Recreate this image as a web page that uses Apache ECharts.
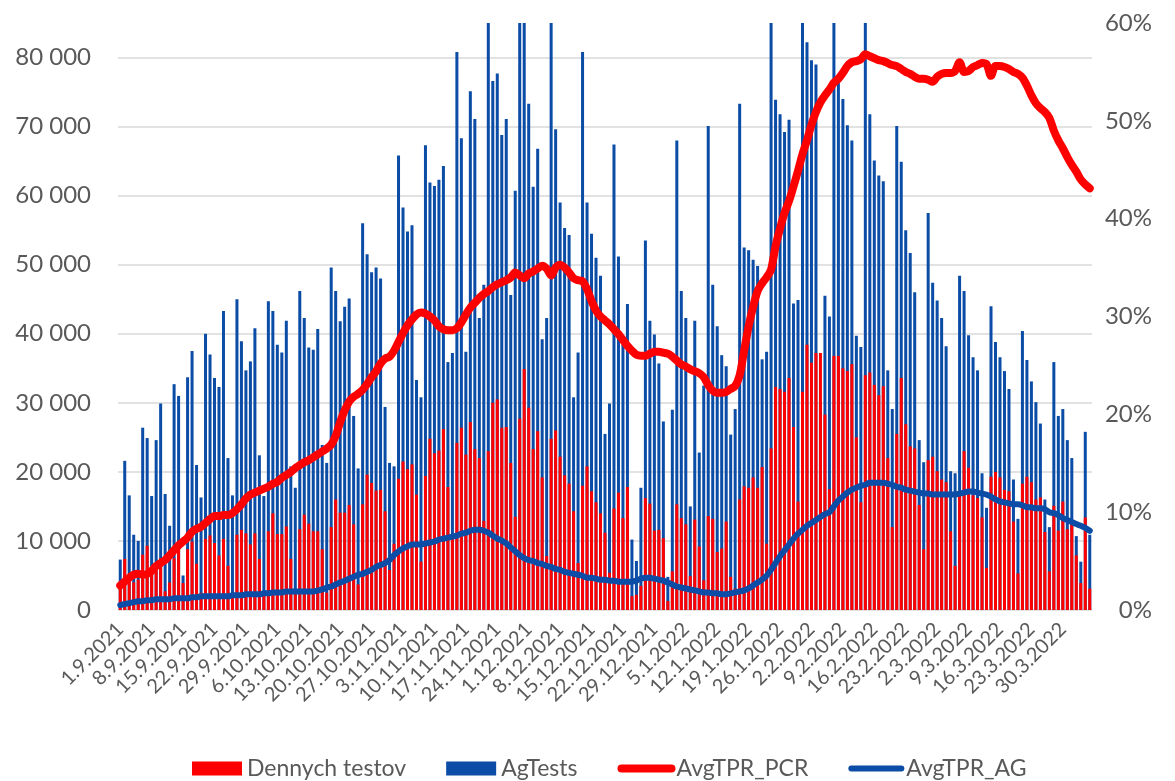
<!DOCTYPE html>
<html>
<head>
<meta charset="utf-8">
<script src="https://cdn.jsdelivr.net/npm/echarts@6/dist/echarts.min.js"></script>
<style>
html,body{margin:0;padding:0;background:#fff;}
#chart{width:1175px;height:781px;}
</style>
</head>
<body>
<div id="chart"></div>
<script>
//datumy 1.9.2021 - 5.4.2022 (den po dni)
var dni = [];
for (var k = 0; k < 217; k++) {
	var d = new Date(2021, 8, 1 + k);
	dni.push(d.getDate() + '.' + (d.getMonth() + 1) + '.' + d.getFullYear());
}

//PCR testy za den
var dennychTestov = [
	3700,7400,4900,4000,4400,8000,9300,6300,6600,7500,2700,4000,7500,9000,3900,8800,9900,6700,2500,10300,
	10800,9700,7900,10300,6400,2500,10900,11600,11100,9500,11100,7400,2500,11400,14000,11000,11000,12100,7400,2700,
	11700,13800,12500,11400,11400,8800,2500,12000,16000,14100,14100,15200,12400,3700,15300,19600,18400,17300,17400,14300,
	5800,9600,19000,21500,20400,21100,16700,7000,19400,24800,22700,23100,26200,17800,10500,24200,26400,22500,27200,23300,
	22000,12900,23000,30000,30500,26400,26500,21300,13500,27700,34900,29300,23300,25900,19200,7800,24800,26000,22200,19500,
	18300,14300,6800,18000,20800,17200,15600,14000,11200,5400,14700,17000,13300,17800,2000,2200,3500,16200,15400,11500,
	11600,10400,1300,5600,15300,13300,12400,4900,13100,9200,4300,13600,13200,8400,8900,12800,4800,3100,16000,17900,
	17700,19200,17700,20700,9600,23400,32300,32000,31600,33600,26500,15700,31600,38400,35800,37200,37200,28300,17500,36800,
	36800,35000,34600,35600,25000,15600,34000,34400,32600,31100,32400,22000,12000,25500,33600,26900,23700,23400,15200,8800,
	21700,22200,20100,18900,18500,11400,6400,16500,23000,20600,16600,16200,13400,6100,19300,20000,19200,17400,17200,12800,
	5300,18300,19300,18500,16000,16300,11300,5600,15100,11500,15700,11700,12500,7900,3900,13400,3100
];

//antigenove testy za den
var agTests = [
	7300,21600,16600,10900,10000,26400,24900,16500,24600,29900,16800,12200,32700,31000,5000,33700,37500,21000,16300,40000,
	37000,33600,32300,43300,22000,16600,45000,38900,34700,36000,40800,22400,16500,44700,43300,38400,37300,41900,20800,17700,
	46200,42300,38000,37700,40700,23900,21300,49600,46200,41800,43900,45100,28100,20500,56000,51500,48900,49600,48000,29400,
	21300,20800,65800,58300,54800,55700,33300,30800,67300,61900,61400,62300,64300,35900,37200,80800,68300,37400,75100,71100,
	42300,47100,90000,76600,77700,68800,71100,45600,60700,88000,92000,73300,61300,66800,39200,42300,89000,69600,59000,55300,
	54300,30800,37300,80800,59000,54500,51000,48400,25500,29900,67400,51200,39400,44300,10200,7100,17700,53500,41900,39900,
	35700,27300,4800,29000,68000,46200,42300,15000,41900,22800,32500,70100,47100,41100,36900,35300,25400,29100,73300,52500,
	52100,50700,49800,36300,37400,95000,73900,71800,69200,71000,44400,44900,98000,82200,79600,79000,30000,45500,42500,90000,
	77500,74000,70200,68000,39700,38100,88000,71800,65100,62900,62100,34700,29100,70100,64900,55000,51700,46000,24600,21400,
	57500,47400,44800,42300,38200,20100,19800,48400,46200,39800,36600,34700,19800,14800,44000,38800,36600,34600,32000,18900,
	13200,40400,36200,33100,30100,27000,16000,12000,35900,28100,29100,24600,22000,10700,7000,25800,10900
];

//priemerna pozitivita PCR (%)
var avgTprPcr = [
	2.5,2.9,3.3,3.6,3.7,3.6,3.7,4.0,4.5,4.8,5.1,5.6,6.1,6.6,7.0,7.4,8.0,8.3,8.5,8.9,
	9.3,9.6,9.6,9.7,9.7,9.9,10.3,10.8,11.4,11.8,12.0,12.2,12.4,12.6,12.9,13.1,13.5,13.8,14.1,14.5,
	14.8,15.1,15.3,15.6,15.9,16.2,16.5,16.9,17.8,19.2,20.4,21.3,21.8,22.1,22.5,23.1,23.8,24.4,25.2,25.7,
	25.9,26.5,27.4,28.3,29.1,29.7,30.2,30.4,30.3,30.0,29.6,29.0,28.7,28.6,28.6,28.8,29.4,30.2,30.9,31.4,
	31.9,32.3,32.6,33.0,33.3,33.5,33.7,34.0,34.5,34.2,33.9,34.4,34.6,34.9,35.2,34.9,34.2,35.0,35.3,35.0,
	34.5,33.9,33.7,33.6,32.8,31.6,30.6,30.0,29.6,29.2,28.7,28.2,27.6,27.0,26.5,26.1,26.0,26.0,26.2,26.4,
	26.4,26.3,26.2,25.9,25.5,25.1,24.9,24.6,24.4,24.2,23.8,23.0,22.4,22.2,22.2,22.3,22.6,22.9,24.0,26.5,
	29.0,31.0,32.6,33.4,34.0,34.8,37.2,39.0,40.6,41.8,43.3,44.9,46.6,48.0,49.6,50.9,51.9,52.6,53.2,53.9,
	54.3,54.9,55.6,56.0,56.1,56.3,56.8,56.6,56.4,56.2,56.1,55.9,55.7,55.6,55.3,55.0,54.8,54.5,54.3,54.3,
	54.2,54.0,54.5,54.8,54.9,54.9,55.1,56.0,55.0,55.1,55.5,55.7,55.9,55.8,54.6,55.6,55.6,55.5,55.3,55.0,
	54.8,54.4,53.6,52.6,51.8,51.3,50.9,50.3,49.0,48.0,47.2,46.3,45.5,44.8,44.0,43.5,43.1
];

//priemerna pozitivita AG (%)
var avgTprAg = [
	0.5,0.6,0.7,0.8,0.9,0.9,1.0,1.0,1.1,1.1,1.1,1.1,1.2,1.2,1.2,1.2,1.3,1.3,1.4,1.4,
	1.4,1.4,1.4,1.4,1.4,1.5,1.5,1.5,1.6,1.6,1.6,1.6,1.7,1.7,1.8,1.8,1.8,1.9,1.9,1.9,
	1.9,1.9,1.9,1.9,2.0,2.1,2.3,2.4,2.6,2.8,3.0,3.2,3.4,3.6,3.7,3.9,4.1,4.4,4.6,4.8,
	5.1,5.6,6.0,6.3,6.5,6.7,6.7,6.7,6.8,6.9,7.0,7.2,7.3,7.4,7.5,7.6,7.8,7.9,8.1,8.2,
	8.2,8.1,7.9,7.6,7.3,7.1,6.8,6.4,6.0,5.6,5.3,5.1,5.0,4.8,4.7,4.5,4.4,4.2,4.1,3.9,
	3.8,3.7,3.6,3.5,3.3,3.3,3.2,3.1,3.1,3.0,3.0,2.9,2.9,2.9,2.9,3.0,3.2,3.3,3.3,3.2,
	3.1,3.0,2.8,2.6,2.4,2.3,2.2,2.1,2.0,1.9,1.8,1.8,1.7,1.7,1.6,1.6,1.7,1.8,1.9,2.0,
	2.2,2.5,2.8,3.1,3.5,4.1,4.8,5.5,6.1,6.7,7.3,7.8,8.2,8.6,8.9,9.2,9.5,9.8,10.0,10.6,
	11.2,11.6,12.0,12.3,12.5,12.7,12.8,13.0,13.0,13.0,13.0,12.9,12.8,12.6,12.5,12.3,12.2,12.1,12.0,11.9,
	11.9,11.8,11.8,11.8,11.8,11.8,11.8,11.9,12.0,12.1,12.1,12.0,11.9,11.8,11.6,11.3,11.1,11.0,10.9,10.8,
	10.8,10.7,10.5,10.5,10.4,10.4,10.3,10.0,9.9,9.7,9.4,9.2,9.0,8.8,8.6,8.4,8.1
];

var sivaFarba = '#595959';
var cervena = '#ff0000';
var modra = '#0a4ca6';
var font = 'Lato, sans-serif';

var myChart = echarts.init(document.getElementById('chart'));
var option = {
	animation: false,
	backgroundColor: '#fff',
	textStyle: {fontFamily: font},
	grid: {left: 118, right: 83, top: 23, bottom: 171},
	legend: {
		left: 187,
		top: 752,
		itemGap: 40,
		itemWidth: 50,
		itemHeight: 14,
		textStyle: {color: sivaFarba, fontSize: 23, fontFamily: font},
		data: [
			{name: 'Dennych testov', icon: 'rect'},
			{name: 'AgTests', icon: 'rect'},
			//ciara bez kruzku v legende
			{name: 'AvgTPR_PCR', itemStyle: {opacity: 0}, lineStyle: {width: 8, cap: 'round'}},
			{name: 'AvgTPR_AG', itemStyle: {opacity: 0}, lineStyle: {width: 6, cap: 'round'}}
		]
	},
	xAxis: {
		type: 'category',
		data: dni,
		boundaryGap: true,
		axisLine: {show: false},
		axisTick: {show: false},
		axisLabel: {
			interval: 6,
			rotate: 45,
			margin: 16,
			color: sivaFarba,
			fontSize: 20,
			fontFamily: font
		}
	},
	yAxis: [
		{
			type: 'value',
			min: 0,
			max: 85000,
			interval: 10000,
			axisLine: {show: false},
			axisTick: {show: false},
			axisLabel: {
				margin: 27,
				color: sivaFarba,
				fontSize: 24,
				fontFamily: font,
				showMaxLabel: false,
				formatter: function (v) {
					return String(v).replace(/\B(?=(\d{3})+(?!\d))/g, ' ');
				}
			},
			splitLine: {showMaxLine: false, lineStyle: {color: '#d9d9d9', width: 1.5}}
		},
		{
			type: 'value',
			min: 0,
			max: 60,
			interval: 10,
			axisLine: {show: false},
			axisTick: {show: false},
			splitLine: {show: false},
			axisLabel: {
				margin: 60,
				align: 'right',
				color: sivaFarba,
				fontSize: 24,
				fontFamily: font,
				formatter: '{value}%'
			}
		}
	],
	series: [
		{
			name: 'AgTests',
			type: 'bar',
			data: agTests,
			barWidth: 3,
			barGap: '-100%',
			clip: true,
			itemStyle: {color: modra}
		},
		{
			name: 'Dennych testov',
			type: 'bar',
			data: dennychTestov,
			barWidth: 3,
			barGap: '-100%',
			clip: true,
			itemStyle: {color: cervena}
		},
		{
			name: 'AvgTPR_AG',
			type: 'line',
			yAxisIndex: 1,
			data: avgTprAg,
			symbol: 'none',
			smooth: 0.3,
			itemStyle: {color: modra},
			lineStyle: {color: modra, width: 6, cap: 'round', join: 'round'}
		},
		{
			name: 'AvgTPR_PCR',
			type: 'line',
			yAxisIndex: 1,
			data: avgTprPcr,
			symbol: 'none',
			smooth: 0.3,
			itemStyle: {color: cervena},
			lineStyle: {color: cervena, width: 8, cap: 'round', join: 'round'}
		}
	]
};

myChart.setOption(option);
window.onresize = myChart.resize;
</script>
</body>
</html>
